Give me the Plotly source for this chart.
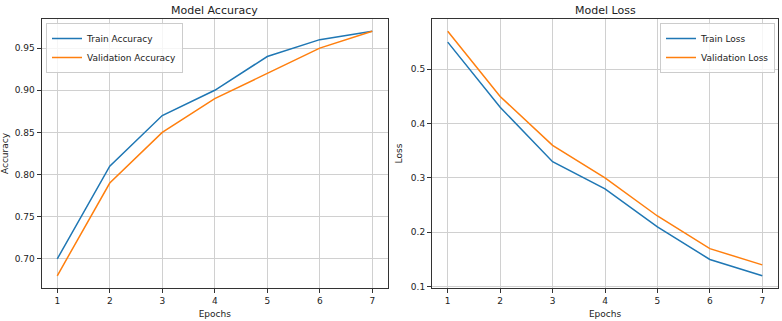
import plotly.graph_objects as go

epochs = [1, 2, 3, 4, 5, 6, 7]
train_acc = [0.70, 0.81, 0.87, 0.90, 0.94, 0.96, 0.97]
val_acc = [0.68, 0.79, 0.85, 0.89, 0.92, 0.95, 0.97]
train_loss = [0.55, 0.43, 0.33, 0.28, 0.21, 0.15, 0.12]
val_loss = [0.57, 0.45, 0.36, 0.30, 0.23, 0.17, 0.14]

BLUE = "#1f77b4"
ORANGE = "#ff7f0e"
FONT = "DejaVu Sans"
W, H = 782, 321

fig = go.Figure()
fig.add_trace(go.Scatter(x=epochs, y=train_acc, mode="lines", name="Train Accuracy",
                         line=dict(color=BLUE, width=1.5), xaxis="x", yaxis="y", legend="legend"))
fig.add_trace(go.Scatter(x=epochs, y=val_acc, mode="lines", name="Validation Accuracy",
                         line=dict(color=ORANGE, width=1.5), xaxis="x", yaxis="y", legend="legend"))
fig.add_trace(go.Scatter(x=epochs, y=train_loss, mode="lines", name="Train Loss",
                         line=dict(color=BLUE, width=1.5), xaxis="x2", yaxis="y2", legend="legend2"))
fig.add_trace(go.Scatter(x=epochs, y=val_loss, mode="lines", name="Validation Loss",
                         line=dict(color=ORANGE, width=1.5), xaxis="x2", yaxis="y2", legend="legend2"))

ydom = [33 / H, 302 / H]
common = dict(showline=True, linecolor="#333333", linewidth=1, mirror=True,
              showgrid=True, gridcolor="#d0d0d0", gridwidth=1, zeroline=False,
              ticks="outside", ticklen=4, tickcolor="#333333",
              tickfont=dict(family=FONT, size=9, color="#222222"), automargin=False)

def span(vals, frac=0.05):
    lo, hi = min(vals), max(vals)
    m = (hi - lo) * frac
    return [lo - m, hi + m]

acc_all = train_acc + val_acc
loss_all = train_loss + val_loss

fig.update_layout(
    width=W, height=H, margin=dict(l=0, r=0, t=0, b=0),
    paper_bgcolor="white", plot_bgcolor="white",
    font=dict(family=FONT, size=9, color="#222222"),
    xaxis=dict(domain=[41.5 / W, 388 / W], range=span(epochs), tickvals=epochs, anchor="y",
               title=dict(text="Epochs", font=dict(family=FONT, size=9), standoff=5), **common),
    yaxis=dict(domain=ydom, range=span(acc_all), dtick=0.05, tickformat=".2f", anchor="x",
               title=dict(text="Accuracy", font=dict(family=FONT, size=9), standoff=6), **common),
    xaxis2=dict(domain=[432 / W, 778 / W], range=span(epochs), tickvals=epochs, anchor="y2",
                title=dict(text="Epochs", font=dict(family=FONT, size=9), standoff=5), **common),
    yaxis2=dict(domain=ydom, range=span(loss_all), dtick=0.1, tickformat=".1f", anchor="x2",
                title=dict(text="Loss", font=dict(family=FONT, size=9), standoff=6), **common),
    legend=dict(x=46 / W, y=(H - 23) / H, xanchor="left", yanchor="top",
                bgcolor="rgba(255,255,255,0.8)", bordercolor="#cccccc", borderwidth=1,
                font=dict(family=FONT, size=9, color="#222222"), itemwidth=30, tracegroupgap=0),
    legend2=dict(x=775 / W, y=(H - 23) / H, xanchor="right", yanchor="top",
                 bgcolor="rgba(255,255,255,0.8)", bordercolor="#cccccc", borderwidth=1,
                 font=dict(family=FONT, size=9, color="#222222"), itemwidth=30, tracegroupgap=0),
    annotations=[
        dict(text="Model Accuracy", x=(41.5 + 388) / 2 / W, y=(H - 10.5) / H, xref="paper", yref="paper",
             xanchor="center", yanchor="middle", showarrow=False,
             font=dict(family=FONT, size=11, color="#222222")),
        dict(text="Model Loss", x=(432 + 778) / 2 / W, y=(H - 10.5) / H, xref="paper", yref="paper",
             xanchor="center", yanchor="middle", showarrow=False,
             font=dict(family=FONT, size=11, color="#222222")),
    ],
)

fig.write_html("out.html")
